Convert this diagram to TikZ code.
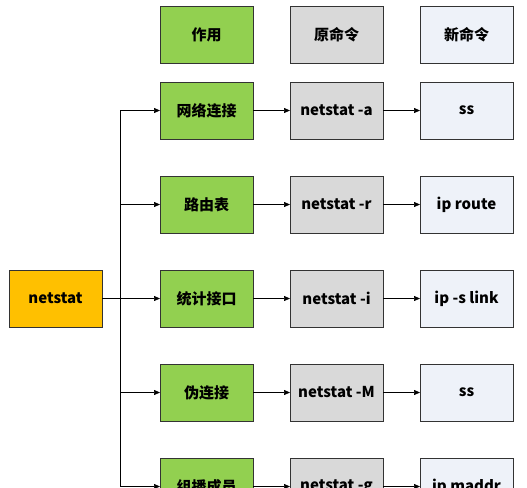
\documentclass[tikz,border=0pt]{standalone}
\usepackage{fontspec}
\setmainfont{Noto Sans CJK SC}
\usepackage{tikz}
\usetikzlibrary{arrows.meta, positioning}
\definecolor{actgreen}{RGB}{146,208,80}
\definecolor{oldgray}{RGB}{217,217,217}
\definecolor{newblue}{RGB}{238,242,249}
\definecolor{rootorange}{RGB}{255,192,0}

\begin{document}
\begin{tikzpicture}[
    x=1pt, y=1pt,
    node distance=37pt and 37pt,
    box/.style={rectangle, draw=black!80, line width=0.8pt, minimum width=93pt, minimum height=57pt, align=center, font=\fontsize{15}{17}\selectfont\bfseries, inner sep=2pt, outer sep=0pt},
    act/.style={box, fill=actgreen},
    old/.style={box, fill=oldgray},
    new/.style={box, fill=newblue},
    arrow/.style={-{Triangle[length=6pt, width=5pt]}, line width=0.7pt}
]
\clip (0,0) rectangle (527,-487);

% header row
\node[act] (head1) at (206.5,-34.5) {作用};
\node[old, right=of head1] (head2) {原命令};
\node[new, right=of head2] (head3) {新命令};

% network connections
\node[act, below=19pt of head1] (act1) {网络连接};
\node[old, right=of act1] (old1) {netstat -a};
\node[new, right=of old1] (new1) {ss};

% routing table
\node[act, below=of act1] (act2) {路由表};
\node[old, right=of act2] (old2) {netstat -r};
\node[new, right=of old2] (new2) {ip route};

% interface statistics
\node[act, below=of act2] (act3) {统计接口};
\node[old, right=of act3] (old3) {netstat -i};
\node[new, right=of old3] (new3) {ip -s link};

% masquerade connections
\node[act, below=of act3] (act4) {伪连接};
\node[old, right=of act4] (old4) {netstat -M};
\node[new, right=of old4] (new4) {ss};

% multicast members
\node[act, below=of act4] (act5) {组播成员};
\node[old, right=of act5] (old5) {netstat -g};
\node[new, right=of old5] (new5) {ip maddr};

% root command
\node[box, fill=rootorange, left=58pt of act3] (netstat) {netstat};

% trunk line
\coordinate (trunk) at (120,0);
\draw[line width=1.4pt] (netstat.east) -- (netstat.east -| trunk);
\draw[line width=0.7pt] (act1.west -| trunk) -- (act5.west -| trunk);

% arrows
\draw[arrow] (act1.west -| trunk) -- (act1);
\draw[arrow] (act2.west -| trunk) -- (act2);
\draw[arrow] (act3.west -| trunk) -- (act3);
\draw[arrow] (act4.west -| trunk) -- (act4);
\draw[arrow] (act5.west -| trunk) -- (act5);
\draw[arrow] (act1) -- (old1);
\draw[arrow] (act2) -- (old2);
\draw[arrow] (act3) -- (old3);
\draw[arrow] (act4) -- (old4);
\draw[arrow] (act5) -- (old5);
\draw[arrow] (old1) -- (new1);
\draw[arrow] (old2) -- (new2);
\draw[arrow] (old3) -- (new3);
\draw[arrow] (old4) -- (new4);
\draw[arrow] (old5) -- (new5);

\end{tikzpicture}
\end{document}
